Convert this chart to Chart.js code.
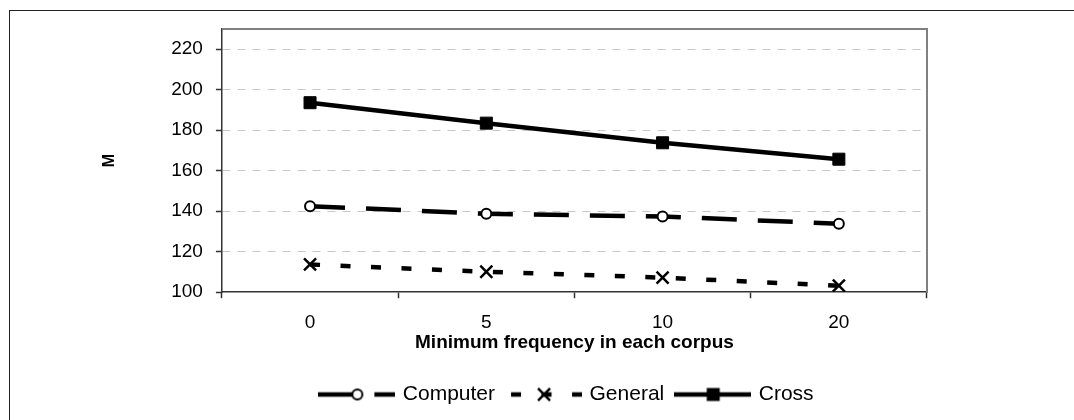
<!DOCTYPE html>
<html>
<head>
<meta charset="utf-8">
<script src="https://cdn.jsdelivr.net/npm/chart.js@4"></script>
<style>
  html, body { margin: 0; padding: 0; background: #fff; overflow: hidden; }
  #wrap { position: relative; width: 1074px; height: 420px; overflow: hidden; }
  #frame { position: absolute; left: 9px; top: 10px; width: 1200px; height: 600px;
           border-left: 1.5px solid #222; border-top: 1.5px solid #222; }
  #c { position: absolute; left: 0; top: 0; }
</style>
</head>
<body>
<div id="wrap">
  <div id="frame"></div>
  <canvas id="c" width="1074" height="420"></canvas>
</div>
<script>
// ---- data ----
const categories = ['0', '5', '10', '20'];
const computerValues = [142.5, 138.7, 137.4, 133.8];
const generalValues = [113.7, 110.1, 107.2, 103.2];
const crossValues = [193.6, 183.5, 173.8, 165.7];
const seriesNames = ['Computer', 'General', 'Cross'];
const yMin = 100, yMax = 230, yStep = 20;
const xTitle = 'Minimum frequency in each corpus';
const yTitle = 'M';

const FONT = "'Liberation Sans', Arial, sans-serif";
const LW = 4.5;

// legend samples (line + marker) as canvases
function sample(kind) {
  const w = 77, h = 16, c = document.createElement('canvas');
  c.width = w; c.height = h;
  const g = c.getContext('2d');
  const my = h / 2;
  g.strokeStyle = '#000'; g.lineWidth = LW; g.lineCap = 'butt';
  if (kind === 0) { g.setLineDash([35, 21]); }
  if (kind === 1) { g.setLineDash([10, 20.5]); g.lineDashOffset = 24.5; }
  g.beginPath(); g.moveTo(0, my); g.lineTo(w, my); g.stroke();
  g.setLineDash([]);
  const cx = w / 2 + 0.5;
  if (kind === 0) {
    g.beginPath(); g.arc(cx, my, 5, 0, Math.PI * 2);
    g.fillStyle = '#fff'; g.fill(); g.lineWidth = 2; g.stroke();
  } else if (kind === 1) {
    const r = 8.5 * Math.SQRT1_2;
    g.lineWidth = 2.5;
    g.beginPath(); g.moveTo(cx - r, my - r); g.lineTo(cx + r, my + r);
    g.moveTo(cx + r, my - r); g.lineTo(cx - r, my + r); g.stroke();
  } else {
    g.fillStyle = '#000'; g.fillRect(cx - 6.5, my - 6.5, 13, 13);
  }
  return c;
}
const samples = [sample(0), sample(1), sample(2)];

const plotBorder = {
  id: 'plotBorder',
  beforeDatasetsDraw(chart) {
    const {ctx, chartArea: a} = chart;
    ctx.save();
    ctx.strokeStyle = '#808080'; ctx.lineWidth = 2;
    ctx.beginPath();
    ctx.moveTo(a.left, a.top); ctx.lineTo(a.right, a.top); ctx.lineTo(a.right, a.bottom);
    ctx.stroke();
    ctx.restore();
  }
};

// nudge the legend block a little left, as in the reference
const legendShift = {
  id: 'legendShift',
  afterLayout(chart) {
    const lg = chart.legend;
    if (lg) { lg.left -= 7; lg.right -= 7; }
  }
};

new Chart(document.getElementById('c'), {
  type: 'line',
  data: {
    labels: categories,
    datasets: [
      { label: seriesNames[0], data: computerValues, borderColor: '#000', borderWidth: LW,
        borderDash: [35, 21], pointStyle: 'circle', pointRadius: 5, pointBorderWidth: 2,
        pointBackgroundColor: '#fff', pointBorderColor: '#000', tension: 0 },
      { label: seriesNames[1], data: generalValues, borderColor: '#000', borderWidth: LW,
        borderDash: [10, 20.5], pointStyle: 'crossRot', pointRadius: 8.5, pointBorderWidth: 2.5,
        pointBackgroundColor: '#000', pointBorderColor: '#000', tension: 0 },
      { label: seriesNames[2], data: crossValues, borderColor: '#000', borderWidth: LW,
        pointStyle: 'rect', pointRadius: 8.5, pointBorderWidth: 1,
        pointBackgroundColor: '#000', pointBorderColor: '#000', tension: 0 }
    ]
  },
  options: {
    responsive: false,
    animation: false,
    layout: { padding: { left: 10, right: 147, top: 29, bottom: 5 } },
    plugins: {
      tooltip: { enabled: false },
      legend: {
        position: 'bottom',
        fullSize: false,
        labels: {
          usePointStyle: true,
          pointStyleWidth: 71,
          padding: 13,
          color: '#000',
          font: { family: FONT, size: 21 },
          generateLabels(chart) {
            return chart.data.datasets.map((d, i) => ({
              text: d.label, pointStyle: samples[i], fillStyle: '#000', strokeStyle: '#000',
              lineWidth: 0, hidden: false, datasetIndex: i, fontColor: '#000'
            }));
          }
        }
      }
    },
    scales: {
      x: {
        offset: true,
        grid: { offset: true, drawOnChartArea: false, drawTicks: true, tickLength: 6,
                tickColor: '#333', tickWidth: 1.5, color: '#333' },
        border: { display: true, color: '#333', width: 1.5 },
        ticks: { color: '#000', font: { family: FONT, size: 19 }, padding: 13, maxRotation: 0 },
        title: { display: true, text: xTitle, color: '#000',
                 font: { family: FONT, size: 19, weight: 'bold', lineHeight: 1 },
                 padding: { top: -14, bottom: 19 } }
      },
      y: {
        min: yMin, max: yMax, bounds: 'data',
        afterBuildTicks(scale) {
          scale.ticks = scale.ticks.filter(t => (t.value - yMin) % yStep === 0);
        },
        grid: {
          color: (ctx) => (ctx.tick && ctx.tick.value === yMin) ? 'rgba(0,0,0,0)' : '#c8c8c8',
          lineWidth: 1, drawTicks: true, tickLength: 6, tickColor: '#333', tickWidth: 1.5
        },
        border: { display: true, color: '#333', width: 1.5, dash: [8, 7] },
        ticks: { stepSize: yStep, includeBounds: false, color: '#000',
                 font: { family: FONT, size: 19 }, padding: 13 },
        title: { display: true, text: yTitle, color: '#000',
                 font: { family: FONT, size: 16, weight: 'bold' },
                 padding: { top: 90, bottom: 39 } }
      }
    }
  },
  plugins: [plotBorder, legendShift]
});
</script>
</body>
</html>
